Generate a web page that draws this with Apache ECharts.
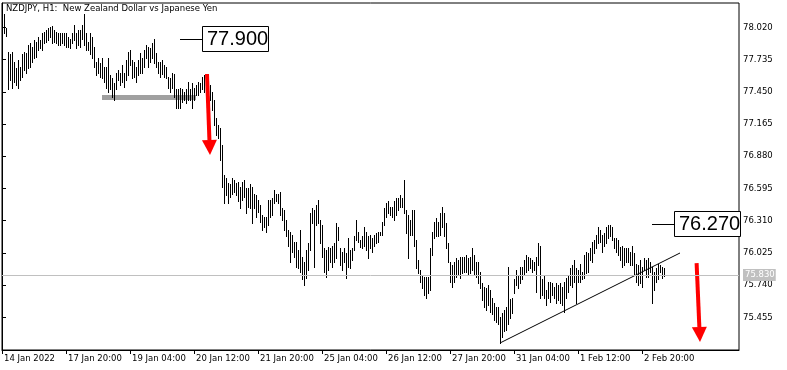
<!DOCTYPE html>
<html><head><meta charset="utf-8">
<script src="https://cdn.jsdelivr.net/npm/echarts@6/dist/echarts.min.js"></script>
<style>html,body{margin:0;padding:0;background:#fff}#c{width:787px;height:370px}</style>
</head><body><div id="c"></div><script>
// ---- data (H1 bars: high / low per bar) ----
const highs = [
78.08,78.14,78.01,77.80,77.78,77.80,77.71,77.66,77.73,77.67,
77.78,77.80,77.79,77.86,77.88,77.85,77.91,77.89,77.93,77.91,
77.97,77.98,78.00,78.01,78.02,78.03,78.00,77.98,77.97,77.97,
77.97,77.97,77.97,77.93,77.92,77.97,78.04,77.97,78.00,78.00,
78.04,78.14,77.97,77.89,77.97,77.93,77.85,77.71,77.75,77.70,
77.75,77.67,77.67,77.75,77.60,77.57,77.53,77.62,77.64,77.62,
77.69,77.62,77.73,77.80,77.82,77.73,77.71,77.67,77.73,77.79,
77.75,77.82,77.86,77.85,77.84,77.88,77.92,77.79,77.71,77.71,
77.73,77.69,77.67,77.58,77.57,77.62,77.61,77.47,77.47,77.48,
77.47,77.45,77.47,77.54,77.47,77.53,77.48,77.51,77.54,77.53,
77.58,77.60,77.61,77.55,77.51,77.45,77.38,77.22,77.16,77.13,
76.98,76.71,76.69,76.64,76.63,76.69,76.67,76.64,76.65,76.61,
76.65,76.67,76.60,76.60,76.63,76.61,76.55,76.54,76.49,76.45,
76.36,76.34,76.34,76.49,76.49,76.51,76.58,76.55,76.55,76.56,
76.42,76.40,76.32,76.23,76.21,76.18,76.12,76.12,76.05,76.23,
75.99,75.94,76.05,76.11,76.38,76.42,76.40,76.45,76.49,76.32,
76.27,76.07,76.05,76.08,76.07,76.09,76.11,76.29,76.25,76.07,
76.03,76.07,76.02,76.16,76.05,76.07,76.17,76.32,76.21,76.14,
76.17,76.25,76.21,76.17,76.18,76.16,76.18,76.20,76.21,76.21,
76.30,76.42,76.47,76.48,76.43,76.43,76.48,76.51,76.51,76.54,
76.51,76.67,76.40,76.36,76.32,76.40,76.40,76.14,75.96,75.87,
75.83,75.81,75.81,75.81,76.07,76.21,76.30,76.33,76.30,76.38,
76.43,76.38,76.29,76.11,75.94,75.92,75.94,75.98,75.96,75.99,
75.99,75.99,76.01,75.98,75.99,76.07,76.01,75.94,75.94,75.86,
75.76,75.72,75.71,75.74,75.70,75.63,75.58,75.55,75.55,75.46,
75.49,75.52,75.55,75.90,75.62,75.63,75.79,75.87,75.83,75.90,
75.90,75.96,76.01,75.99,75.98,75.96,75.94,75.99,76.11,76.09,
75.79,75.83,75.70,75.77,75.77,75.76,75.72,75.76,75.74,75.76,
75.72,75.77,75.80,75.83,75.89,75.92,75.96,75.89,75.87,75.93,
75.86,76.01,76.03,76.02,76.07,76.12,76.14,76.18,76.25,76.23,
76.18,76.20,76.25,76.27,76.27,76.25,76.16,76.16,76.14,76.08,
76.09,76.07,76.07,76.07,76.03,76.09,76.02,75.93,75.92,75.96,
75.90,75.98,75.96,75.98,75.94,75.90,75.86,75.89,75.93,75.92,
75.90,75.89
];
const lows = [
77.95,77.97,77.94,77.47,77.55,77.48,77.54,77.51,77.48,77.55,
77.58,77.64,77.62,77.66,77.67,77.71,77.75,77.76,77.82,77.84,
77.82,77.88,77.89,77.91,77.93,77.88,77.89,77.88,77.86,77.86,
77.88,77.86,77.85,77.85,77.84,77.88,77.91,77.84,77.86,77.85,
77.92,77.86,77.82,77.82,77.78,77.75,77.67,77.60,77.62,77.58,
77.57,77.54,77.48,77.45,77.47,77.40,77.38,77.47,77.55,77.51,
77.54,77.49,77.55,77.60,77.69,77.57,77.58,77.54,77.60,77.62,
77.62,77.67,77.75,77.67,77.71,77.75,77.70,77.67,77.62,77.58,
77.61,77.58,77.57,77.48,77.45,77.48,77.40,77.31,77.31,77.31,
77.36,77.38,77.35,77.38,77.38,77.31,77.38,77.42,77.42,77.45,
77.47,77.45,77.42,77.40,77.38,77.29,77.16,77.07,77.04,76.85,
76.61,76.47,76.54,76.47,76.52,76.55,76.56,76.54,76.48,76.42,
76.49,76.52,76.38,76.43,76.42,76.29,76.42,76.34,76.39,76.30,
76.23,76.25,76.21,76.27,76.34,76.36,76.47,76.48,76.47,76.36,
76.32,76.23,76.17,76.09,75.94,76.03,75.99,75.90,75.89,75.86,
75.79,75.74,75.80,75.87,76.05,76.29,75.90,76.27,76.29,76.11,
75.99,75.86,75.81,75.87,75.94,75.90,75.94,75.98,76.14,75.92,
75.87,75.94,75.80,75.90,75.89,75.96,76.05,76.14,76.12,76.08,
76.07,76.09,76.05,75.98,76.07,76.03,76.09,76.11,76.12,76.18,
76.18,76.27,76.34,76.38,76.36,76.34,76.32,76.36,76.40,76.43,
76.43,76.38,76.20,75.98,76.18,76.18,76.09,75.89,75.85,75.77,
75.71,75.65,75.63,75.67,75.70,76.01,76.16,76.17,76.17,76.18,
76.25,76.17,76.07,75.94,75.77,75.72,75.77,75.81,75.83,75.80,
75.85,75.86,75.86,75.83,75.85,75.87,75.83,75.81,75.76,75.71,
75.61,75.55,75.52,75.56,75.50,75.48,75.43,75.41,75.40,75.23,
75.28,75.33,75.34,75.40,75.45,75.49,75.67,75.74,75.71,75.76,
75.79,75.83,75.86,75.87,75.89,75.86,75.87,75.68,75.92,75.63,
75.65,75.63,75.56,75.63,75.59,75.65,75.63,75.58,75.61,75.58,
75.56,75.50,75.63,75.68,75.74,75.72,75.77,75.58,75.77,75.77,
75.79,75.80,75.85,75.86,75.96,75.94,76.02,76.07,76.11,76.12,
76.03,76.09,76.11,76.16,76.17,76.14,76.07,76.03,76.01,75.96,
75.90,75.92,75.94,75.94,75.92,75.92,75.83,75.77,75.74,75.76,
75.72,75.87,75.81,75.81,75.86,75.58,75.70,75.77,75.79,75.86,
75.80,75.82
];
const tickBars   = [0, 32, 64, 96, 128, 160, 192, 224, 256, 288, 320];
const tickLabels = ['14 Jan 2022','17 Jan 20:00','19 Jan 04:00','20 Jan 12:00','21 Jan 20:00','25 Jan 04:00','26 Jan 12:00','27 Jan 20:00','31 Jan 04:00','1 Feb 12:00','2 Feb 20:00'];
const priceTicks = [75.455, 75.740, 76.025, 76.310, 76.595, 76.880, 77.165, 77.450, 77.735, 78.020];
const lastPrice  = 75.830;
// annotations (bar index, price)
const boxBars   = [89, 325];
const boxLevels = [77.915, 76.28];
const boxTexts  = ['77.900', '76.270'];
const zoneLine  = [50, 97, 77.40];                 // from bar, to bar, price
const arrows    = [[102.5, 77.607, 104, 76.89], [347.3, 75.935, 349, 75.237]];
const trendLine = [249, 75.228, 339, 76.024];

const FONT = 'DejaVu Sans';
const chart = echarts.init(document.getElementById('c'), null, {renderer: 'canvas'});
chart.setOption({
  animation: false,
  backgroundColor: '#fff',
  title: {
    text: 'NZDJPY, H1:  New Zealand Dollar vs Japanese Yen', left: 6, top: 4, padding: 0,
    textStyle: {fontFamily: FONT, fontSize: 8.5, fontWeight: 'normal', color: '#000'}
  },
  grid: {left: 2, right: 48, top: 3, bottom: 20, show: true, borderColor: '#000', borderWidth: 1, backgroundColor: '#fff'},
  xAxis: {
    type: 'value', min: 0, max: 368.5,
    axisLine: {show: true, lineStyle: {color: '#000'}},
    axisTick: {show: true, customValues: tickBars, length: 4, lineStyle: {color: '#000'}},
    axisLabel: {customValues: tickBars, formatter: v => tickLabels[tickBars.indexOf(v)] || '', align: 'left',
      margin: 4, padding: [0, 0, 0, 2], fontFamily: FONT, fontSize: 8.5, color: '#000'},
    splitLine: {show: false}
  },
  yAxis: {
    type: 'value', position: 'right', min: 75.166, max: 78.235,
    axisLine: {show: true, lineStyle: {color: '#000'}},
    axisTick: {show: true, customValues: priceTicks, length: 4, lineStyle: {color: '#000'}},
    axisLabel: {customValues: priceTicks, formatter: v => v.toFixed(3), margin: 4, fontFamily: FONT, fontSize: 8.5, color: '#000'},
    splitLine: {show: false}
  },
  series: [
    { // gray zone line + current price line
      type: 'custom', silent: true, z: 1,
      data: [zoneLine],
      encode: {x: [0, 1], y: 2},
      renderItem: (params, api) => {
        const a = api.coord([api.value(0), api.value(2)]);
        const b = api.coord([api.value(1), api.value(2)]);
        return {type: 'line', shape: {x1: a[0], y1: a[1], x2: b[0], y2: b[1]}, style: {stroke: '#a0a0a0', lineWidth: 5, lineCap: 'butt'}};
      },
      markLine: {
        silent: true, symbol: ['none', 'none'], animation: false,
        data: [{yAxis: lastPrice}],
        lineStyle: {color: '#c0c0c0', width: 1, type: 'solid'},
        label: {show: true, position: 'end', formatter: lastPrice.toFixed(3), backgroundColor: '#c0c0c0', color: '#fff',
          padding: [2, 1, 1, 2], distance: 4, fontFamily: FONT, fontSize: 8.5}
      }
    },
    { // bars
      type: 'custom', silent: true, z: 2,
      data: highs.map((h, i) => [i, lows[i], h]),
      encode: {x: 0, y: [1, 2]},
      renderItem: (params, api) => {
        const i = api.value(0);
        const lo = api.coord([i, api.value(1)]);
        const hi = api.coord([i, api.value(2)]);
        const px = Math.round(lo[0]) + 0.5;
        return {type: 'line', shape: {x1: px, y1: Math.round(hi[1]), x2: px, y2: Math.round(lo[1]) + 1},
          style: {stroke: '#000', lineWidth: 1}};
      }
    },
    { // trend line
      type: 'custom', silent: true, z: 3,
      data: [trendLine],
      encode: {x: [0, 2], y: [1, 3]},
      renderItem: (params, api) => {
        const a = api.coord([api.value(0), api.value(1)]);
        const b = api.coord([api.value(2), api.value(3)]);
        return {type: 'line', shape: {x1: a[0], y1: a[1], x2: b[0], y2: b[1]}, style: {stroke: '#000', lineWidth: 1}};
      }
    },
    { // red arrows
      type: 'custom', silent: true, z: 4, clip: false,
      data: arrows,
      encode: {x: [0, 2], y: [1, 3]},
      renderItem: (params, api) => {
        const a = api.coord([api.value(0), api.value(1)]);
        const b = api.coord([api.value(2), api.value(3)]);
        const dx = b[0] - a[0], dy = b[1] - a[1], len = Math.hypot(dx, dy), ux = dx / len, uy = dy / len;
        const hl = 15, hw = 7.5;
        const bx = b[0] - ux * hl, by = b[1] - uy * hl;
        return {type: 'group', children: [
          {type: 'line', shape: {x1: a[0], y1: a[1], x2: bx, y2: by}, style: {stroke: '#ff0000', lineWidth: 4}},
          {type: 'polygon', shape: {points: [[bx - uy * hw, by + ux * hw], [bx + uy * hw, by - ux * hw], [b[0], b[1]]]},
            style: {fill: '#ff0000'}}
        ]};
      }
    },
    { // price label boxes
      type: 'custom', silent: true, z: 5, clip: false,
      data: boxBars.map((b, i) => [b, boxLevels[i]]),
      encode: {x: 0, y: 1},
      renderItem: (params, api) => {
        const p = api.coord([api.value(0), api.value(1)]);
        const x = Math.round(p[0]), y = Math.round(p[1]) + 0.5;
        return {type: 'group', children: [
          {type: 'line', shape: {x1: x, y1: y, x2: x + 22, y2: y}, style: {stroke: '#000', lineWidth: 1}},
          {type: 'rect', shape: {x: x + 22.5, y: y - 13, width: 66, height: 25}, style: {fill: '#fff', stroke: '#000', lineWidth: 1}},
          {type: 'text', x: x + 27, y: y, style: {text: boxTexts[params.dataIndex], fill: '#000',
            fontFamily: 'Liberation Sans', fontSize: 20, verticalAlign: 'middle', align: 'left'}}
        ]};
      }
    }
  ]
});
</script></body></html>
